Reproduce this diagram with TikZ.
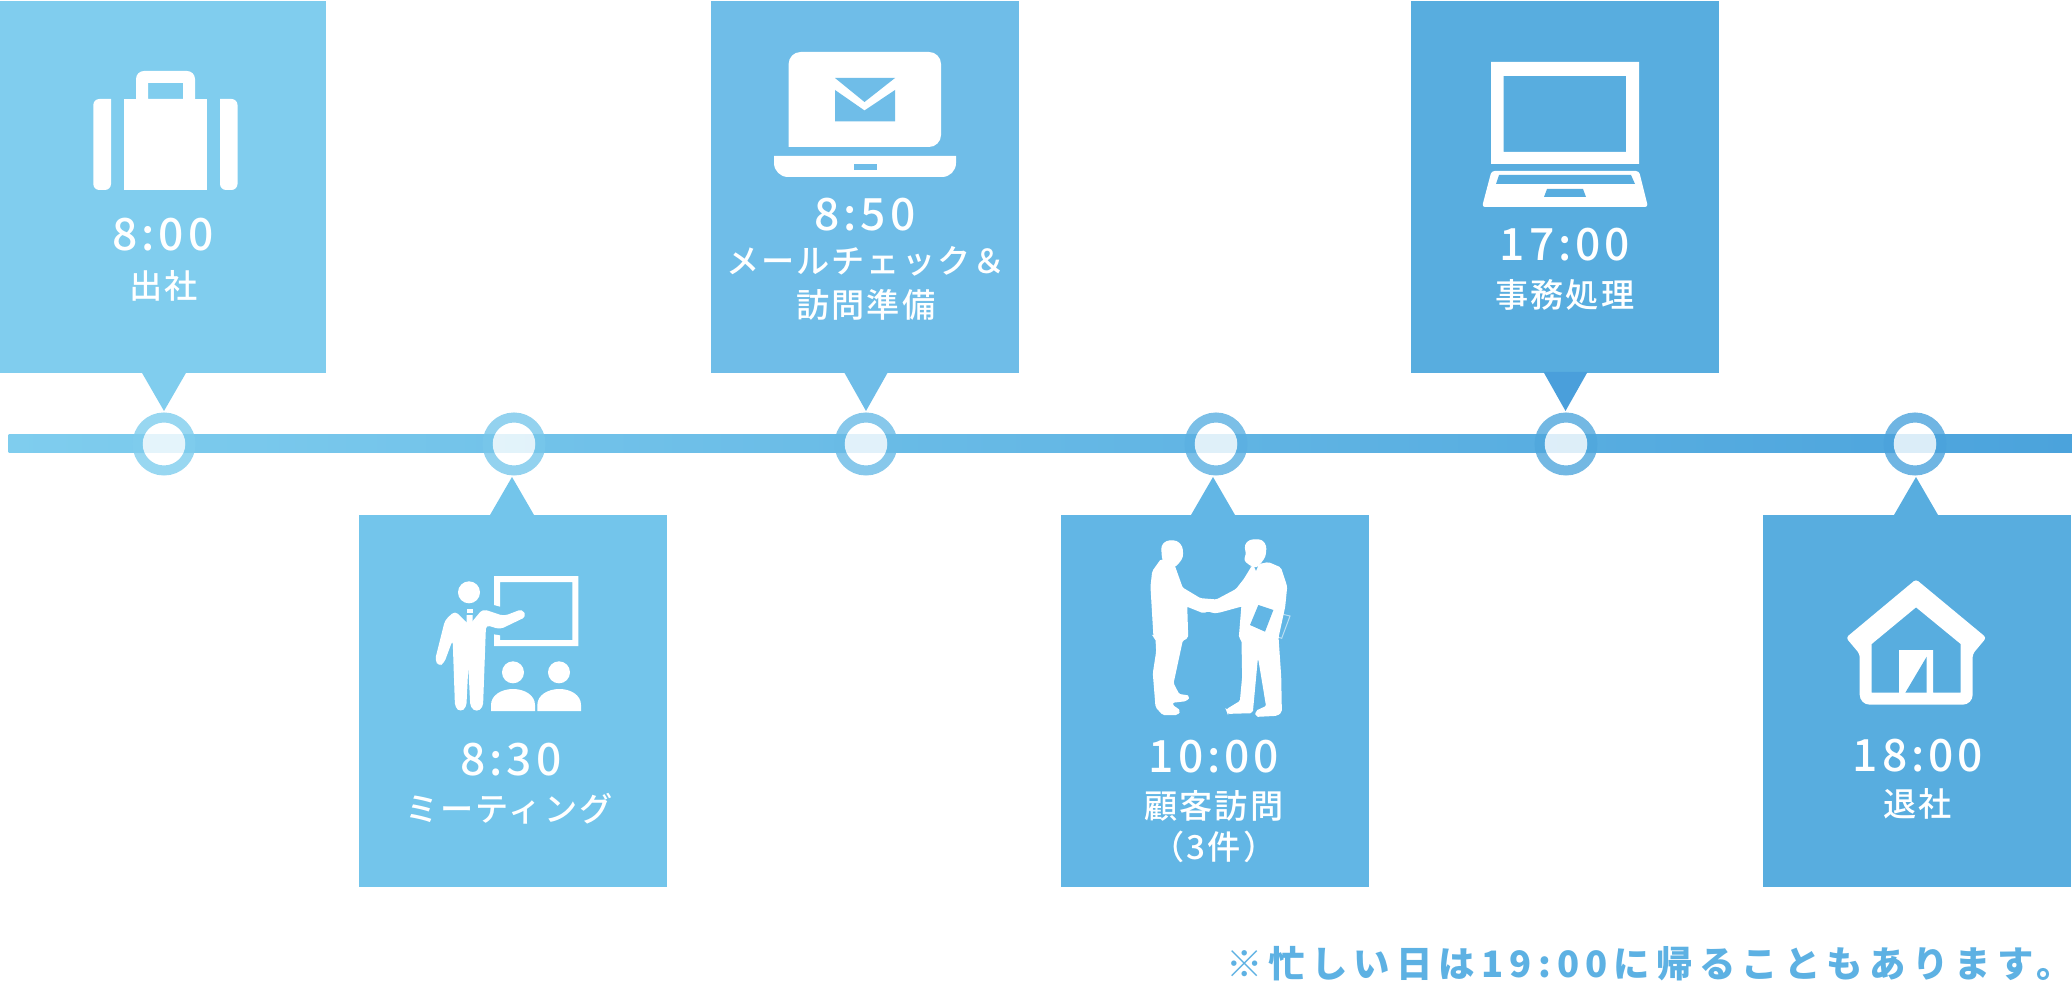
\documentclass[tikz,border=0pt]{standalone}
\usepackage{fontspec}
\setmainfont{Noto Sans CJK JP}
\newfontfamily\timefont[LetterSpace=9]{Noto Sans CJK JP Medium}
\newfontfamily\labelfont[LetterSpace=6]{Noto Sans CJK JP Medium}
\newfontfamily\notefont[LetterSpace=17]{Noto Sans CJK JP}
\definecolor{cardA}{HTML}{80CDEE}
\definecolor{cardB}{HTML}{73C5EB}
\definecolor{cardC}{HTML}{6FBDE8}
\definecolor{cardD}{HTML}{62B6E5}
\definecolor{cardE}{HTML}{58ADDF}
\definecolor{tipE}{HTML}{4A9FDB}
\definecolor{railL}{HTML}{7FCDEE}
\definecolor{railR}{HTML}{4BA3DC}
\definecolor{ringA}{HTML}{7FCDEE}
\definecolor{ringB}{HTML}{78C7EB}
\definecolor{ringC}{HTML}{69BBE6}
\definecolor{ringD}{HTML}{5BB0E2}
\definecolor{ringE}{HTML}{50A7DD}
\definecolor{ringF}{HTML}{4BA3DC}
\definecolor{noteblue}{HTML}{5DB1E3}
\tikzset{
  x=0.5pt,y=-0.5pt,
  card/.style={anchor=north west,inner sep=0pt,outer sep=0pt,minimum width=154pt,minimum height=186pt},
  stophole/.style={circle,inner sep=0pt,outer sep=0pt,minimum size=21.5pt,fill=white,fill opacity=.8},
  stopring/.style={circle,inner sep=0pt,outer sep=0pt,minimum size=26.5pt,line width=5pt,draw opacity=.8},
  timetext/.style={anchor=base,text=white,inner sep=0pt,font=\timefont\fontsize{22.2pt}{22.2pt}\selectfont},
  labeltext/.style={anchor=base,text=white,inner sep=0pt,font=\labelfont\fontsize{16.6pt}{16.6pt}\selectfont},
  notetext/.style={anchor=base east,text=noteblue,inner sep=0pt,font=\notefont\bfseries\fontsize{18.2pt}{18.2pt}\selectfont},
  zoomed/.style={x=0.166667pt,y=-0.166667pt},
}
\begin{document}
\begin{tikzpicture}
\useasboundingbox (0,0) rectangle (2072,983);
\fill[white] (0,0) rectangle (2072,983);

% cards
\node[card,fill=cardA,minimum width=163pt] (card1) at (0,1) {};
\node[card,fill=cardB] (card2) at (359,515) {};
\node[card,fill=cardC] (card3) at (711,1) {};
\node[card,fill=cardD] (card4) at (1061,515) {};
\node[card,fill=cardE] (card5) at (1411,1) {};
\node[card,fill=cardE] (card6) at (1763,515) {};

% rail with gradient
\coordinate (railstart) at (8.5,435);
\coordinate (railend) at (2072,453);
\shade[left color=railL,right color=railR] (railstart) rectangle (railend);

% pointers from the cards to the rail
\coordinate (tip1) at (164,411);
\coordinate (tip2) at (512,477);
\coordinate (tip3) at (866,411);
\coordinate (tip4) at (1213,477);
\coordinate (tip5) at (1565.5,411);
\coordinate (tip6) at (1916,477);
\fill[cardA] (tip1) -- ++(-22.5,-39) -- ++(45,0) -- cycle;
\fill[cardB] (tip2) -- ++(-22,38) -- ++(44,0) -- cycle;
\fill[cardC] (tip3) -- ++(-22,-39) -- ++(44,0) -- cycle;
\fill[cardD] (tip4) -- ++(-22,38) -- ++(44,0) -- cycle;
\fill[tipE]  (tip5) -- ++(-22,-39) -- ++(44,0) -- cycle;
\fill[cardE] (tip6) -- ++(-22,38) -- ++(44,0) -- cycle;

% stops on the rail
\node[stophole] (hole1) at (164,444) {};
\node[stophole] (hole2) at (514,444) {};
\node[stophole] (hole3) at (866,444) {};
\node[stophole] (hole4) at (1216,444) {};
\node[stophole] (hole5) at (1566,444) {};
\node[stophole] (hole6) at (1915,444) {};
\node[stopring,draw=ringA] (ring1) at (hole1) {};
\node[stopring,draw=ringB] (ring2) at (hole2) {};
\node[stopring,draw=ringC] (ring3) at (hole3) {};
\node[stopring,draw=ringD] (ring4) at (hole4) {};
\node[stopring,draw=ringE] (ring5) at (hole5) {};
\node[stopring,draw=ringF] (ring6) at (hole6) {};

% briefcase
\fill[white,rounded corners=3pt] (111,99) -- (93.3,99) -- (93.3,190) -- (111,190) [sharp corners] -- cycle;
\fill[white] (124,99) rectangle (207,190);
\fill[white,rounded corners=3pt] (220,99) -- (237.5,99) -- (237.5,190) -- (220,190) [sharp corners] -- cycle;
\fill[white,even odd rule] (136,99) [rounded corners=4pt] -- (136,71) -- (195,71) [sharp corners] -- (195,99) -- cycle
  (148,83) rectangle (183,99);

% laptop with envelope
\fill[white,rounded corners=6pt] (788.6,147) -- (788.6,52) -- (941,52) -- (941,147) [sharp corners] -- cycle;
\fill[cardC] (835,78) -- (895,78) -- (864.5,102) -- cycle;
\fill[cardC] (835,90) -- (864.5,110.5) -- (895,90) -- (895,121.5) -- (835,121.5) -- cycle;
\fill[white] (774,156) -- (956,156) [rounded corners=7pt] -- (956,177) [rounded corners=7pt] -- (774,177) [sharp corners] -- cycle;
\fill[cardC] (854,164) rectangle (877,170);

% open laptop
\fill[white,even odd rule] (1491,62) rectangle (1639,164) (1503.5,76) rectangle (1626,152);
\fill[white,rounded corners=1.5pt] (1491.5,171) -- (1639,171) -- (1648,207) -- (1482,207) -- cycle;
\fill[cardE] (1499,175) -- (1631,175) -- (1635,184) -- (1496,184) -- cycle;
\fill[cardE] (1547,189) -- (1583,189) -- (1586,197) -- (1544,197) -- cycle;

% presenter with board and audience
\begin{scope}[shift={(360,500)},zoomed]
  \fill[white] (402,228) -- (655,228) -- (655,438) -- (402,438) -- (402,403) -- (420,406) -- (420,420) -- (637,420) -- (637,246) -- (420,246) -- (420,320) -- (402,315) -- cycle;
  \fill[white] (327,277) circle [radius=33];
  \fill[white,rounded corners=2pt] (285,333) -- (255,360) -- (225,480) -- (236,499) -- (252,490) -- (278,420) -- (285,622) -- (302,636) -- (319,622) -- (325,500) -- (331,622) -- (350,636) -- (369,622) -- (378,375) -- (420,388) -- (499,350) -- (487,327) -- (432,348) -- (368,327) -- (328,375) -- cycle;
  \fill[white] (320,328) rectangle (338,340);
  \fill[white] (320,345) -- (338,345) -- (338,368) -- (329,378) -- (320,368) -- cycle;
  \fill[white] (459,517) circle [radius=33];
  \fill[white] (597,517) circle [radius=33];
  \fill[white] (393,633) -- (393,615) .. controls (393,585) and (425,567) .. (459,567) .. controls (493,567) and (525,585) .. (525,615) -- (525,633) -- cycle;
  \fill[white] (532,633) -- (532,615) .. controls (532,585) and (564,567) .. (598,567) .. controls (632,567) and (663,585) .. (663,615) -- (663,633) -- cycle;
\end{scope}

% handshake silhouettes
\begin{scope}[shift={(1060,510)},zoomed]
  \draw[white,line width=.6pt,fill=white,rounded corners=1.5pt] (305,108) -- (320,93) -- (350,93) -- (366,110) -- (368,140) -- (358,156) -- (342,172) -- (318,158) -- (308,150) -- cycle;
  \draw[white,line width=.6pt,fill=white,rounded corners=1.5pt] (555,105) -- (570,90) -- (605,90) -- (618,108) -- (615,140) -- (600,160) -- (590,172) -- (575,168) -- (552,150) -- (560,135) -- cycle;
  \draw[white,line width=1.2pt,fill=white,rounded corners=.8pt] (305,150) -- (280,185) -- (275,230) -- (284,382) -- (290,385) -- (292,425) -- (282,490) -- (290,590) -- (310,612) -- (350,612) -- (358,603) -- (335,587) -- (335,575) -- (378,570) -- (386,560) -- (355,555) -- (337,520) -- (365,390) -- (381,382) -- (378,285) -- (430,306) -- (445,300) -- (460,306) -- (475,305) -- (548,285) -- (540,382) -- (548,390) -- (550,500) -- (543,575) -- (502,600) -- (505,608) -- (575,606) -- (590,445) -- (598,445) -- (622,590) -- (590,605) -- (590,617) -- (650,614) -- (662,605) -- (660,500) -- (652,382) -- (672,290) -- (678,230) -- (660,175) -- (625,160) -- (600,165) -- (588,192) -- (578,170) -- (555,208) -- (530,240) -- (470,272) -- (445,270) -- (420,268) -- (365,235) -- (340,165) -- cycle;
  \fill[cardD] (595,285) -- (640,300) -- (615,365) -- (570,345) -- cycle;
  \draw[white,opacity=.55,line width=.5pt] (665,312) -- (690,318) -- (665,385) -- (650,380);
\end{scope}

% house
\begin{scope}[shift={(1760,500)},zoomed]
  \fill[white,even odd rule] [rounded corners=1.5pt] (468,238) -- (258,413) -- (299,462) [rounded corners=5pt] -- (299,614) -- (638,614) [rounded corners=1.5pt] -- (638,462) -- (679,413) -- cycle
    [sharp corners] (335,432) -- (468,322) -- (602,432) -- (602,578) -- (519,578) -- (519,450) -- (417,450) -- (417,578) -- (335,578) -- cycle;
  \fill[white] (417,450) rectangle (519,578);
  \fill[cardE] (436,578) -- (500,470) -- (500,578) -- cycle;
\end{scope}

% captions
\node[timetext] (time1) at (163,251) {8:00};
\node[labeltext] (label1) at (164,299) {出社};
\node[timetext] (time2) at (511,775) {8:30};
\node[labeltext] (label2) at (509,821) {ミーティング};
\node[timetext] (time3) at (865,231) {8:50};
\node[labeltext] (label3a) at (866,274) {メールチェック＆};
\node[labeltext] (label3b) at (866,318) {訪問準備};
\node[timetext] (time4) at (1214,772) {10:00};
\node[labeltext] (label4a) at (1214,818) {顧客訪問};
\node[labeltext] (label4b) at (1214,859) {（3件）};
\node[timetext] (time5) at (1565,261) {17:00};
\node[labeltext] (label5) at (1565,307.5) {事務処理};
\node[timetext] (time6) at (1918,771) {18:00};
\node[labeltext] (label6) at (1918,816) {退社};
\node[notetext] (note) at (2073,977) {※忙しい日は19:00に帰ることもあります。};
\end{tikzpicture}
\end{document}
